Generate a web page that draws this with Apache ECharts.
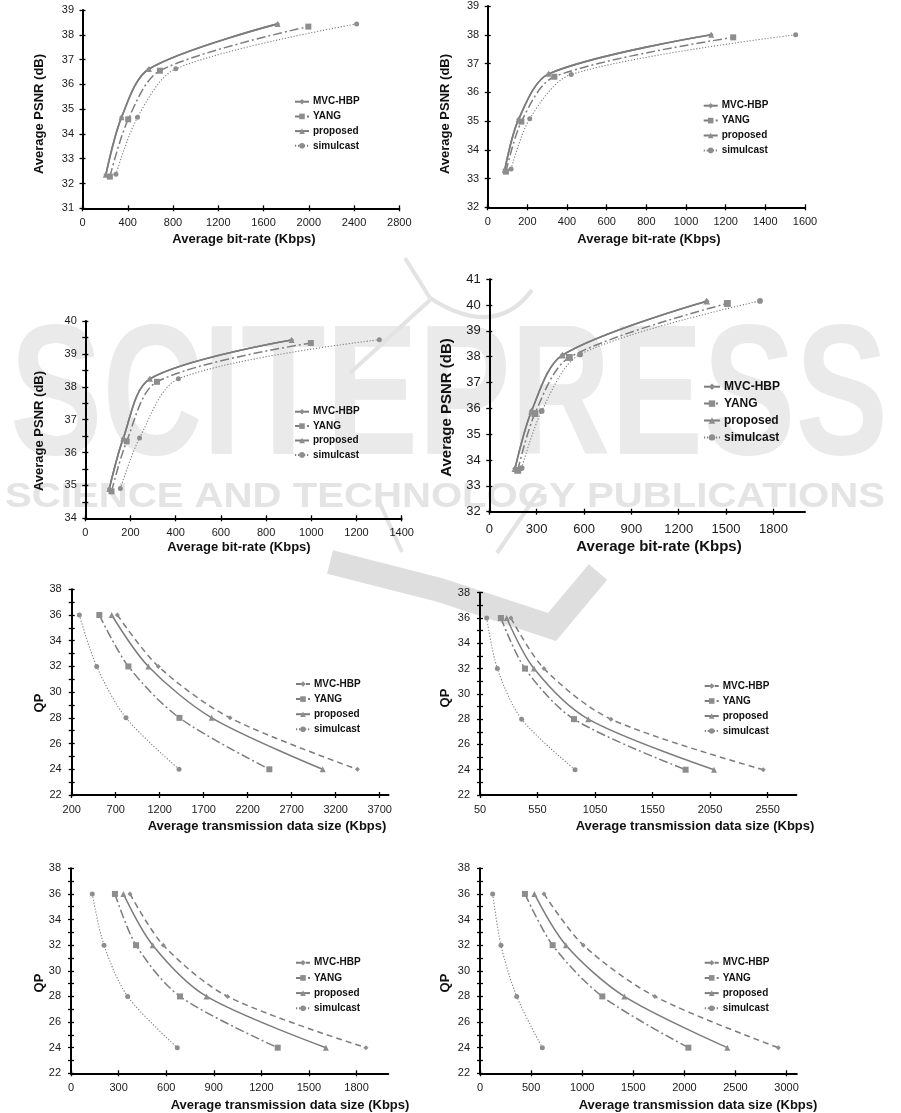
<!DOCTYPE html>
<html><head><meta charset="utf-8">
<script src="https://cdn.jsdelivr.net/npm/echarts@6/dist/echarts.min.js"></script>
<style>html,body{margin:0;padding:0;background:#fff}#c{width:901px;height:1113px}</style>
</head><body><div id="c"></div>
<script>
// ---------------- DATA ----------------
const SERIES_NAMES = ['MVC-HBP', 'YANG', 'proposed', 'simulcast'];
const QP = [36, 32, 28, 24];

// (a) top-left : PSNR vs bit-rate
const A_rate_MVC = [206, 345, 587, 1724];
const A_psnr_MVC = [32.35, 34.67, 36.62, 38.44];
const A_rate_YANG = [242, 404, 684, 1996];
const A_psnr_YANG = [32.28, 34.59, 36.55, 38.33];
const A_rate_PROP = [206, 345, 587, 1724];
const A_psnr_PROP = [32.35, 34.67, 36.62, 38.44];
const A_rate_SIM = [295, 486, 825, 2423];
const A_psnr_SIM = [32.37, 34.67, 36.63, 38.44];
const A_xTicks = [0, 400, 800, 1200, 1600, 2000, 2400, 2800];
const A_yTicks = [31, 32, 33, 34, 35, 36, 37, 38, 39];

// (b) top-right
const B_rate_MVC = [86, 156, 308, 1127];
const B_psnr_MVC = [33.30, 35.06, 36.64, 38.00];
const B_rate_YANG = [92, 170, 336, 1238];
const B_psnr_YANG = [33.24, 34.98, 36.54, 37.91];
const B_rate_PROP = [86, 156, 308, 1127];
const B_psnr_PROP = [33.30, 35.06, 36.64, 38.00];
const B_rate_SIM = [118, 212, 421, 1553];
const B_psnr_SIM = [33.33, 35.08, 36.62, 38.00];
const B_xTicks = [0, 200, 400, 600, 800, 1000, 1200, 1400, 1600];
const B_yTicks = [32, 33, 34, 35, 36, 37, 38, 39];

// (c) second row left
const C_rate_MVC = [106, 168, 286, 913];
const C_psnr_MVC = [34.89, 36.43, 38.24, 39.42];
const C_rate_YANG = [116, 183, 317, 998];
const C_psnr_YANG = [34.82, 36.34, 38.15, 39.33];
const C_rate_PROP = [106, 168, 286, 913];
const C_psnr_PROP = [34.89, 36.43, 38.24, 39.42];
const C_rate_SIM = [155, 240, 412, 1301];
const C_psnr_SIM = [34.91, 36.44, 38.24, 39.43];
const C_xTicks = [0, 200, 400, 600, 800, 1000, 1200, 1400];
const C_yLabels = [34, 35, 36, 37, 38, 39, 40];
const C_yTicks = [34, 34.5, 35, 35.5, 36, 36.5, 37, 37.5, 38, 38.5, 39, 39.5, 40];

// (d) second row right
const D_rate_MVC = [163, 268, 463, 1377];
const D_psnr_MVC = [33.67, 35.90, 38.06, 40.15];
const D_rate_YANG = [180, 289, 507, 1508];
const D_psnr_YANG = [33.60, 35.80, 37.97, 40.06];
const D_rate_PROP = [163, 268, 463, 1377];
const D_psnr_PROP = [33.67, 35.90, 38.06, 40.15];
const D_rate_SIM = [205, 332, 575, 1715];
const D_psnr_SIM = [33.69, 35.90, 38.09, 40.16];
const D_xTicks = [0, 300, 600, 900, 1200, 1500, 1800];
const D_yTicks = [32, 33, 34, 35, 36, 37, 38, 39, 40, 41];

// (e)-(h) QP vs average transmission data size
const E_size_MVC = [719, 1185, 1999, 3446];
const E_size_YANG = [514, 844, 1424, 2446];
const E_size_PROP = [655, 1071, 1791, 3052];
const E_size_SIM = [287, 484, 817, 1420];
const E_xTicks = [200, 700, 1200, 1700, 2200, 2700, 3200, 3700];

const F_size_MVC = [319, 606, 1188, 2512];
const F_size_YANG = [232, 441, 867, 1837];
const F_size_PROP = [282, 519, 991, 2084];
const F_size_SIM = [108, 201, 412, 876];
const F_xTicks = [50, 550, 1050, 1550, 2050, 2550];

const G_size_MVC = [372, 582, 987, 1859];
const G_size_YANG = [277, 410, 687, 1303];
const G_size_PROP = [330, 515, 855, 1607];
const G_size_SIM = [134, 208, 357, 670];
const G_xTicks = [0, 300, 600, 900, 1200, 1500, 1800];

const H_size_MVC = [626, 1011, 1712, 2919];
const H_size_YANG = [440, 711, 1197, 2039];
const H_size_PROP = [532, 841, 1412, 2420];
const H_size_SIM = [124, 205, 359, 610];
const H_xTicks = [0, 500, 1000, 1500, 2000, 2500, 3000];

const QP_yLabels = [22, 24, 26, 28, 30, 32, 34, 36, 38];
const QP_yTicks = [22, 23, 24, 25, 26, 27, 28, 29, 30, 31, 32, 33, 34, 35, 36, 37, 38];

// ---------------- STYLE ----------------
const FONT = '"Liberation Sans", Arial, sans-serif';
const LINE = '#7c7c7c';
const MARK = '#8d8d8d';
const STY = {
  psnr: {
    'MVC-HBP': {type: 'solid', w: 1.6, symbol: 'diamond', size: 5},
    'YANG': {type: [9, 3, 2, 3], w: 1.5, symbol: 'rect', size: 6},
    'proposed': {type: 'solid', w: 1.6, symbol: 'triangle', size: 6},
    'simulcast': {type: [1.2, 1.8], w: 1.1, symbol: 'circle', size: 5}
  },
  qp: {
    'MVC-HBP': {type: [6, 4], w: 1.5, symbol: 'diamond', size: 5},
    'YANG': {type: [9, 3, 2, 3], w: 1.5, symbol: 'rect', size: 6},
    'proposed': {type: 'solid', w: 1.5, symbol: 'triangle', size: 6},
    'simulcast': {type: [1.2, 1.8], w: 1.1, symbol: 'circle', size: 5}
  }
};

const PSNR_T = 'Average PSNR (dB)', RATE_T = 'Average bit-rate (Kbps)';
const SIZE_T = 'Average transmission data size (Kbps)';

const panels = [
  {id: 'A', kind: 'psnr', grid: {left: 82.5, top: 10, width: 316.8, height: 198.3},
   xMin: 0, xMax: 2800, xLabels: A_xTicks, xTicks: A_xTicks, yMin: 31, yMax: 39, yLabels: A_yTicks, yTicks: A_yTicks,
   series: {'MVC-HBP': [A_rate_MVC, A_psnr_MVC], 'YANG': [A_rate_YANG, A_psnr_YANG], 'proposed': [A_rate_PROP, A_psnr_PROP], 'simulcast': [A_rate_SIM, A_psnr_SIM]},
   legend: {left: 294, top: 95.7, gap: 2.7}, fs: 11, tfs: 13, lfs: 10, sc: 1,
   xT: [RATE_T, 244, 239], yT: [PSNR_T, 39, 114]},
  {id: 'B', kind: 'psnr', grid: {left: 487.7, top: 6, width: 317.3, height: 201.3},
   xMin: 0, xMax: 1600, xLabels: B_xTicks, xTicks: B_xTicks, yMin: 32, yMax: 39, yLabels: B_yTicks, yTicks: B_yTicks,
   series: {'MVC-HBP': [B_rate_MVC, B_psnr_MVC], 'YANG': [B_rate_YANG, B_psnr_YANG], 'proposed': [B_rate_PROP, B_psnr_PROP], 'simulcast': [B_rate_SIM, B_psnr_SIM]},
   legend: {left: 702.7, top: 99.7, gap: 2.9}, fs: 11, tfs: 13, lfs: 10, sc: 1,
   xT: [RATE_T, 649, 239], yT: [PSNR_T, 445, 114]},
  {id: 'C', kind: 'psnr', grid: {left: 85.3, top: 321, width: 316.4, height: 197.3},
   xMin: 0, xMax: 1400, xLabels: C_xTicks, xTicks: C_xTicks, yMin: 34, yMax: 40, yLabels: C_yLabels, yTicks: C_yTicks,
   series: {'MVC-HBP': [C_rate_MVC, C_psnr_MVC], 'YANG': [C_rate_YANG, C_psnr_YANG], 'proposed': [C_rate_PROP, C_psnr_PROP], 'simulcast': [C_rate_SIM, C_psnr_SIM]},
   legend: {left: 294, top: 405.7, gap: 2.4}, fs: 11, tfs: 13, lfs: 10, sc: 1,
   xT: [RATE_T, 239, 547], yT: [PSNR_T, 39, 431]},
  {id: 'D', kind: 'psnr', grid: {left: 489.3, top: 279.2, width: 315.7, height: 232.5},
   xMin: 0, xMax: 2000, xLabels: D_xTicks, xTicks: D_xTicks, yMin: 32, yMax: 41, yLabels: D_yTicks, yTicks: D_yTicks,
   series: {'MVC-HBP': [D_rate_MVC, D_psnr_MVC], 'YANG': [D_rate_YANG, D_psnr_YANG], 'proposed': [D_rate_PROP, D_psnr_PROP], 'simulcast': [D_rate_SIM, D_psnr_SIM]},
   legend: {left: 703, top: 379.7, gap: 2.9}, fs: 13, tfs: 15, lfs: 12, sc: 1.15,
   xT: [RATE_T, 659, 546.7], yT: [PSNR_T, 447, 407.5]},
  {id: 'E', kind: 'qp', grid: {left: 71.7, top: 589.3, width: 316.8, height: 205.7},
   xMin: 200, xMax: 3800, xLabels: E_xTicks, xTicks: E_xTicks, yMin: 22, yMax: 38, yLabels: QP_yLabels, yTicks: QP_yTicks,
   series: {'MVC-HBP': [E_size_MVC, QP], 'YANG': [E_size_YANG, QP], 'proposed': [E_size_PROP, QP], 'simulcast': [E_size_SIM, QP]},
   legend: {left: 295, top: 678, gap: 3.1}, fs: 11, tfs: 13, lfs: 10, sc: 1,
   xT: [SIZE_T, 267, 826], yT: ['QP', 39, 703]},
  {id: 'F', kind: 'qp', grid: {left: 480, top: 592.7, width: 316.4, height: 202.3},
   xMin: 50, xMax: 2800, xLabels: F_xTicks, xTicks: F_xTicks, yMin: 22, yMax: 38, yLabels: QP_yLabels, yTicks: QP_yTicks,
   series: {'MVC-HBP': [F_size_MVC, QP], 'YANG': [F_size_YANG, QP], 'proposed': [F_size_PROP, QP], 'simulcast': [F_size_SIM, QP]},
   legend: {left: 703.7, top: 680, gap: 3}, fs: 11, tfs: 13, lfs: 10, sc: 1,
   xT: [SIZE_T, 695, 826], yT: ['QP', 445, 698]},
  {id: 'G', kind: 'qp', grid: {left: 71, top: 868.3, width: 317.3, height: 205},
   xMin: 0, xMax: 2000, xLabels: G_xTicks, xTicks: G_xTicks, yMin: 22, yMax: 38, yLabels: QP_yLabels, yTicks: QP_yTicks,
   series: {'MVC-HBP': [G_size_MVC, QP], 'YANG': [G_size_YANG, QP], 'proposed': [G_size_PROP, QP], 'simulcast': [G_size_SIM, QP]},
   legend: {left: 295, top: 956.7, gap: 3.2}, fs: 11, tfs: 13, lfs: 10, sc: 1,
   xT: [SIZE_T, 290, 1105], yT: ['QP', 39, 983]},
  {id: 'H', kind: 'qp', grid: {left: 480, top: 868.3, width: 316.8, height: 205},
   xMin: 0, xMax: 3100, xLabels: H_xTicks, xTicks: H_xTicks, yMin: 22, yMax: 38, yLabels: QP_yLabels, yTicks: QP_yTicks,
   series: {'MVC-HBP': [H_size_MVC, QP], 'YANG': [H_size_YANG, QP], 'proposed': [H_size_PROP, QP], 'simulcast': [H_size_SIM, QP]},
   legend: {left: 703.7, top: 956.7, gap: 3.2}, fs: 11, tfs: 13, lfs: 10, sc: 1,
   xT: [SIZE_T, 698, 1105], yT: ['QP', 445, 983]}
];

// ---------------- BUILD ----------------
const grids = [], xAxes = [], yAxes = [], series = [], legends = [], graphics = [];
const tickStyle = {color: '#000', width: 1.3};
const plain = v => String(v);

// watermark (behind the charts)
function fitText(text, cx, cy, w, capH, fill) {
  const cv = document.createElement('canvas').getContext('2d');
  cv.font = 'bold 100px ' + FONT;
  const mw = cv.measureText(text).width;
  return {type: 'text', x: cx, y: cy, z: -10, silent: true,
    scaleX: w / mw, scaleY: capH / 72.9,
    style: {text: text, font: 'bold 100px ' + FONT, fill: fill, align: 'center', verticalAlign: 'middle'}};
}
graphics.push(fitText('SCITEPRESS', 449, 403, 878, 135, '#eaeaea'));
graphics.push(fitText('SCIENCE AND TECHNOLOGY PUBLICATIONS', 445, 497.5, 880, 25, '#e4e4e4'));
graphics.push({type: 'polyline', z: -10, silent: true,
  shape: {points: [[330, 562], [440, 590], [552, 627], [598, 572]]},
  style: {stroke: '#dedede', lineWidth: 24, fill: null, lineJoin: 'miter'}});
const thin = {stroke: '#e3e3e3', lineWidth: 4, fill: null};
graphics.push({type: 'polyline', z: -10, silent: true, shape: {points: [[350, 373], [430, 300]]}, style: thin});
graphics.push({type: 'polyline', z: -10, silent: true, shape: {points: [[405, 258], [430, 298]]}, style: thin});
graphics.push({type: 'bezierCurve', z: -10, silent: true,
  shape: {x1: 430, y1: 298, x2: 532, y2: 290, cpx1: 495, cpy1: 340}, style: thin});
graphics.push({type: 'polyline', z: -10, silent: true, shape: {points: [[377, 497], [402, 552]]}, style: thin});
graphics.push({type: 'polyline', z: -10, silent: true, shape: {points: [[497, 553], [540, 490]]}, style: thin});

panels.forEach((p, i) => {
  grids.push(Object.assign({containLabel: false, outerBoundsMode: 'none'}, p.grid));
  const lbl = {fontFamily: FONT, fontSize: p.fs, color: '#1a1a1a', formatter: plain};
  xAxes.push({gridIndex: i, type: 'value', min: p.xMin, max: p.xMax, position: 'bottom',
    axisLine: {show: true, onZero: false, lineStyle: {color: '#000', width: 2}},
    axisTick: {show: true, inside: false, length: 3, customValues: p.xTicks, lineStyle: tickStyle},
    axisLabel: Object.assign({show: true, customValues: p.xLabels, margin: p.id === 'D' ? 11 : 9}, lbl),
    splitLine: {show: false}});
  xAxes.push({gridIndex: i, type: 'value', min: p.xMin, max: p.xMax, position: 'bottom',
    axisLine: {show: false}, axisLabel: {show: false}, splitLine: {show: false},
    axisTick: {show: true, inside: true, length: 3, customValues: p.xTicks, lineStyle: tickStyle}});
  yAxes.push({gridIndex: i, type: 'value', min: p.yMin, max: p.yMax, position: 'left',
    axisLine: {show: true, onZero: false, lineStyle: {color: '#000', width: 2}},
    axisTick: {show: true, inside: false, length: 3, customValues: p.yTicks, lineStyle: tickStyle},
    axisLabel: Object.assign({show: true, customValues: p.yLabels, margin: p.kind === 'qp' ? 10 : 8.5}, lbl),
    splitLine: {show: false}});
  yAxes.push({gridIndex: i, type: 'value', min: p.yMin, max: p.yMax, position: 'left',
    axisLine: {show: false}, axisLabel: {show: false}, splitLine: {show: false},
    axisTick: {show: true, inside: true, length: 3, customValues: p.yTicks, lineStyle: tickStyle}});

  ['MVC-HBP', 'YANG', 'simulcast', 'proposed'].forEach((name, k) => {
    const st = STY[p.kind][name];
    const xs = p.series[name][0], ys = p.series[name][1];
    series.push({type: 'line', name: name + '|' + p.id, xAxisIndex: 2 * i, yAxisIndex: 2 * i,
      data: xs.map((x, j) => [x, ys[j]]), smooth: 0.3, symbol: st.symbol, symbolSize: st.size * p.sc,
      lineStyle: {color: LINE, width: st.w, type: st.type}, itemStyle: {color: MARK}, z: 2 + k,
      silent: true, animation: false});
  });

  legends.push({orient: 'vertical', left: p.legend.left, top: p.legend.top, itemGap: p.legend.gap,
    itemWidth: p.id === 'D' ? 16 : 14, itemHeight: p.id === 'D' ? 8 : 7, padding: 0, selectedMode: false,
    data: SERIES_NAMES.map(n => n + '|' + p.id),
    formatter: n => n.split('|')[0],
    textStyle: {fontFamily: FONT, fontWeight: 'bold', fontSize: p.lfs, color: '#111', lineHeight: p.id === 'D' ? 14 : 12, padding: [0, 0, 0, -1]}});

  graphics.push({type: 'text', x: p.xT[1], y: p.xT[2], silent: true,
    style: {text: p.xT[0], font: 'bold ' + p.tfs + 'px ' + FONT, fill: '#111', align: 'center', verticalAlign: 'middle'}});
  graphics.push({type: 'text', x: p.yT[1], y: p.yT[2], rotation: Math.PI / 2, silent: true,
    style: {text: p.yT[0], font: 'bold ' + p.tfs + 'px ' + FONT, fill: '#111', align: 'center', verticalAlign: 'middle'}});
});

const chart = echarts.init(document.getElementById('c'), null, {width: 901, height: 1113, renderer: 'canvas'});
chart.setOption({
  animation: false,
  backgroundColor: '#ffffff',
  grid: grids, xAxis: xAxes, yAxis: yAxes, series: series, legend: legends, graphic: graphics
});
</script></body></html>
